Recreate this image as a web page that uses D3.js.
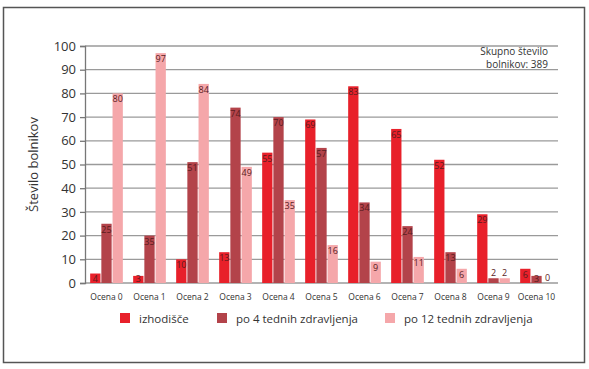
<!DOCTYPE html>
<html>
<head>
<meta charset="utf-8">
<script src="https://cdn.jsdelivr.net/npm/d3@7"></script>
<style>
  body { margin: 0; background: #fff; }
  text { font-family: "Open Sans", sans-serif; }
</style>
</head>
<body>
<svg id="chart" width="589" height="369"></svg>
<script>
// Categories and series
var categories = ["Ocena 0", "Ocena 1", "Ocena 2", "Ocena 3", "Ocena 4", "Ocena 5",
                  "Ocena 6", "Ocena 7", "Ocena 8", "Ocena 9", "Ocena 10"];
var seriesNames = ["izhodišče", "po 4 tednih zdravljenja", "po 12 tednih zdravljenja"];
var baseline = [4, 3, 10, 13, 55, 69, 83, 65, 52, 29, 6];
var week4 = [25, 20, 51, 74, 70, 57, 34, 24, 13, 2, 3];
var week12 = [80, 97, 84, 49, 35, 16, 9, 11, 6, 2, 0];
// printed labels (the original prints 35 on the 20-high bar of Ocena 1)
var week4Labels = ["25", "35", "51", "74", "70", "57", "34", "24", "13", "2", "3"];
var yTicks = [0, 10, 20, 30, 40, 50, 60, 70, 80, 90, 100];
var colors = ["#e8202a", "#b3434a", "#f5a7aa"];

var svg = d3.select("#chart");

// outer frame
svg.append("rect")
    .attr("x", 3.5).attr("y", 7.5)
    .attr("width", 581).attr("height", 355)
    .attr("fill", "none")
    .attr("stroke", "#555")
    .attr("stroke-width", 1.5);

var margin = { left: 85, top: 46, right: 558, bottom: 283 };

var x0 = d3.scaleBand()
    .domain(categories)
    .range([margin.left, margin.right])
    .paddingInner(0.24)
    .paddingOuter(0.12);

var x1 = d3.scaleBand()
    .domain([0, 1, 2])
    .range([0, x0.bandwidth()])
    .paddingInner(0.08);

var y = d3.scaleLinear()
    .domain([0, 100])
    .range([margin.bottom, margin.top]);

// gridlines
svg.append("g")
    .selectAll("line")
    .data(yTicks)
    .join("line")
    .attr("x1", margin.left).attr("x2", margin.right)
    .attr("y1", function(d) { return y(d); })
    .attr("y2", function(d) { return y(d); })
    .attr("stroke", "#9a9a9a")
    .attr("stroke-width", 1.3);

// y axis
var yAxis = svg.append("g")
    .attr("transform", "translate(" + margin.left + ",0)")
    .call(d3.axisLeft(y).tickValues(yTicks).tickSize(5).tickPadding(4));
yAxis.select(".domain").attr("stroke", "#777").attr("stroke-width", 1.3);
yAxis.selectAll(".tick line").attr("stroke", "#777").attr("stroke-width", 1.3);
yAxis.selectAll(".tick text")
    .attr("font-size", 13)
    .attr("fill", "#333")
    .style("font-family", "Open Sans, sans-serif");

svg.append("text")
    .attr("transform", "translate(38," + (margin.top + margin.bottom) / 2 + ") rotate(-90)")
    .attr("text-anchor", "middle")
    .attr("font-size", 13)
    .attr("fill", "#333")
    .text("Število bolnikov");

// bars
var series = [baseline, week4, week12];
var labels = [baseline.map(String), week4Labels, week12.map(String)];

var groups = svg.append("g")
    .selectAll("g")
    .data(categories)
    .join("g")
    .attr("transform", function(d) { return "translate(" + x0(d) + ",0)"; });

groups.each(function(cat, i) {
    var g = d3.select(this);
    for (var s = 0; s < 3; ++s)
    {
        var v = series[s][i];
        var bx = x1(s);
        var bw = x1.bandwidth();
        if (v > 0)
        {
            g.append("rect")
                .attr("x", bx)
                .attr("y", y(v))
                .attr("width", bw)
                .attr("height", y(0) - y(v))
                .attr("fill", colors[s]);
        }
        // labels sit inside the bar top, or above it when the bar is very short
        var inside = v >= 3;
        g.append("text")
            .attr("x", bx + bw / 2)
            .attr("y", inside ? Math.min(y(v) + 9, y(0) - 1) : y(v) - 2)
            .attr("text-anchor", "middle")
            .attr("font-size", 9)
            .attr("fill", "#5a1c1e")
            .text(labels[s][i]);
    }
});

// category labels
svg.append("g")
    .selectAll("text")
    .data(categories)
    .join("text")
    .attr("x", function(d) { return x0(d) + x0.bandwidth() / 2; })
    .attr("y", 300)
    .attr("text-anchor", "middle")
    .attr("font-size", 8.5)
    .attr("fill", "#333")
    .text(function(d) { return d; });

// annotation
var note = svg.append("text")
    .attr("text-anchor", "end")
    .attr("font-size", 10)
    .attr("fill", "#333");
note.append("tspan").attr("x", 548).attr("y", 55).text("Skupno število");
note.append("tspan").attr("x", 548).attr("y", 67.5).text("bolnikov: 389");

// legend
var legendX = [120, 217, 385];
var legend = svg.append("g")
    .selectAll("g")
    .data(seriesNames)
    .join("g")
    .attr("transform", function(d, i) { return "translate(" + legendX[i] + ",313)"; });
legend.append("rect")
    .attr("width", 10).attr("height", 10)
    .attr("fill", function(d, i) { return colors[i]; });
legend.append("text")
    .attr("x", 19).attr("y", 9.5)
    .attr("font-size", 11.5)
    .attr("fill", "#333")
    .text(function(d) { return d; });
</script>
</body>
</html>
